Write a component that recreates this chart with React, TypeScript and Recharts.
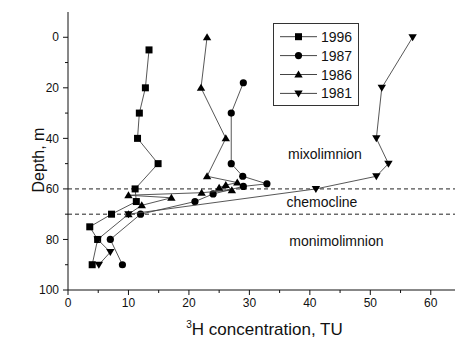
import React from "react";
import {
  ScatterChart,
  Scatter,
  XAxis,
  YAxis,
  ReferenceLine,
  ReferenceDot,
  Legend,
} from "recharts";

// depth (m) and tritium concentration (TU)
const depth1996 = [5, 20, 30, 40, 50, 60, 65, 70, 75, 80, 90];
const conc1996 = [13.4, 12.8, 11.8, 11.5, 14.9, 11.1, 11.3, 7.2, 3.6, 4.9, 4.0];

const depth1987 = [18, 30, 50, 55, 58, 59, 62, 65, 70, 80, 90];
const conc1987 = [29.0, 27.0, 27.0, 28.9, 32.9, 29.0, 24.0, 21.0, 12.0, 7.0, 9.0];

const depth1986 = [0, 20, 40, 55, 57.5, 58.5, 59.5, 60.5, 61.5, 62.5, 63.5, 66.5, 70];
const conc1986 = [23.0, 22.0, 26.1, 23.0, 28.0, 26.1, 25.0, 27.1, 22.1, 10.0, 17.1, 12.2, 10.0];

const depth1981 = [0, 20, 40, 50, 55, 60, 70, 80, 85, 90];
const conc1981 = [57.0, 51.9, 51.0, 53.0, 51.0, 41.0, 10.0, 4.9, 7.0, 5.1];

const xTicks = [0, 5, 10, 15, 20, 25, 30, 35, 40, 45, 50, 55, 60, 65];
const yTicks = [0, 10, 20, 30, 40, 50, 60, 70, 80, 90, 100];
const layerBounds = [60, 70];
const layerNames = ["mixolimnion", "chemocline", "monimolimnion"];
const layerLabelX = [42.5, 42, 44.4];
const layerLabelY = [46.2, 65.3, 80.8];

type Marker = "square" | "circle" | "up" | "down";

const toPoints = (xs: number[], ys: number[]) => xs.map((x, i) => ({ x, y: ys[i] }));

const series: { name: string; marker: Marker; data: { x: number; y: number }[] }[] = [
  { name: "1996", marker: "square", data: toPoints(conc1996, depth1996) },
  { name: "1987", marker: "circle", data: toPoints(conc1987, depth1987) },
  { name: "1986", marker: "up", data: toPoints(conc1986, depth1986) },
  { name: "1981", marker: "down", data: toPoints(conc1981, depth1981) },
];

const FONT = '"Liberation Sans", Arial, sans-serif';
const INK = "#111";
const LINE = "#444";

const drawMarker = (m: Marker, cx: number, cy: number) => {
  if (m === "square") return <rect x={cx - 3.5} y={cy - 3.5} width={7} height={7} fill="#000" />;
  if (m === "circle") return <circle cx={cx} cy={cy} r={3.6} fill="#000" />;
  if (m === "up")
    return <polygon points={`${cx},${cy - 4} ${cx - 4.2},${cy + 3} ${cx + 4.2},${cy + 3}`} fill="#000" />;
  return <polygon points={`${cx},${cy + 4} ${cx - 4.2},${cy - 3} ${cx + 4.2},${cy - 3}`} fill="#000" />;
};

const makeShape = (m: Marker) => (props: any) => {
  const { cx, cy } = props;
  if (cx == null || cy == null) return <g />;
  return drawMarker(m, cx, cy);
};

// tick renderers: tickSize/tickMargin are 0 so x,y sit on the axis line
const BottomTick = ({ x, y, payload }: any) => {
  const v = payload.value;
  const major = v % 10 === 0;
  return (
    <g>
      <line x1={x} x2={x} y1={y} y2={y + (major ? 5 : 3)} stroke={INK} />
      {major && v <= 60 && (
        <text x={x} y={y + 17} textAnchor="middle" fontSize={12} fill={INK} fontFamily={FONT}>
          {v}
        </text>
      )}
    </g>
  );
};

const TopTick = ({ x, y, payload }: any) => {
  const major = payload.value % 10 === 0;
  return <line x1={x} x2={x} y1={y} y2={y + (major ? 5 : 3)} stroke={INK} />;
};

const LeftTick = ({ x, y, payload }: any) => {
  const v = payload.value;
  const major = v % 20 === 0;
  return (
    <g>
      <line x1={x - (major ? 5 : 3)} x2={x} y1={y} y2={y} stroke={INK} />
      {major && (
        <text x={x - 9} y={y} dy="0.35em" textAnchor="end" fontSize={12} fill={INK} fontFamily={FONT}>
          {v}
        </text>
      )}
    </g>
  );
};

const RightTick = ({ x, y, payload }: any) => {
  const major = payload.value % 20 === 0;
  return <line x1={x - (major ? 7 : 4)} x2={x} y1={y} y2={y} stroke={INK} />;
};

const XTitle = (props: any) => {
  const vb = props.viewBox;
  const cx = 264.5;
  return (
    <text x={cx} y={vb.y + 45} textAnchor="middle" fill={INK} fontFamily={FONT} fontSize={17}>
      <tspan fontSize={10} dy={-7}>3</tspan>
      <tspan dy={7}>H concentration, TU</tspan>
    </text>
  );
};

const YTitle = (props: any) => {
  const vb = props.viewBox;
  const cx = vb.x + 30;
  const cy = 160;
  return (
    <text
      x={cx}
      y={cy}
      dy="0.35em"
      textAnchor="middle"
      fill={INK}
      fontFamily={FONT}
      fontSize={16}
      transform={`rotate(-90, ${cx}, ${cy})`}
    >
      Depth, m
    </text>
  );
};

const LegendBox = () => (
  <svg width={86} height={83} style={{ display: "block" }}>
    <rect x={0.5} y={0.5} width={85} height={82} fill="#fff" stroke="#333" />
    {series.map((s, i) => {
      const cy = 13.7 + i * 18.9;
      return (
        <g key={s.name}>
          <line x1={7} x2={44} y1={cy} y2={cy} stroke={LINE} />
          {drawMarker(s.marker, 25.5, cy)}
          <text x={48} y={cy} dy="0.36em" fontSize={14} fill={INK} fontFamily={FONT}>
            {s.name}
          </text>
        </g>
      );
    })}
  </svg>
);

export default function App() {
  return (
    <div
      style={{
        position: "absolute",
        left: 0,
        top: 0,
        width: 455,
        height: 339,
        overflow: "hidden",
        background: "#fff",
        fontFamily: FONT,
      }}
    >
      <ScatterChart width={461} height={339} margin={{ top: 12, right: 0, bottom: 0, left: 8 }}>
        <XAxis
          xAxisId={0}
          type="number"
          dataKey="x"
          domain={[0, 65]}
          ticks={xTicks}
          interval={0}
          allowDataOverflow
          height={49}
          tickSize={0}
          tickMargin={0}
          tickLine={false}
          tick={<BottomTick />}
          axisLine={{ stroke: INK }}
          label={<XTitle />}
        />
        <XAxis
          xAxisId="top"
          orientation="top"
          type="number"
          dataKey="x"
          domain={[0, 65]}
          ticks={xTicks}
          interval={0}
          allowDataOverflow
          height={0}
          tickSize={0}
          tickMargin={0}
          tickLine={false}
          tick={<TopTick />}
          axisLine={{ stroke: INK }}
        />
        <YAxis
          yAxisId={0}
          type="number"
          dataKey="y"
          domain={[-10, 100]}
          reversed
          ticks={yTicks}
          interval={0}
          allowDataOverflow
          width={60}
          tickSize={0}
          tickMargin={0}
          tickLine={false}
          tick={<LeftTick />}
          axisLine={{ stroke: INK }}
          label={<YTitle />}
        />
        <YAxis
          yAxisId="right"
          orientation="right"
          type="number"
          dataKey="y"
          domain={[-10, 100]}
          reversed
          ticks={yTicks}
          interval={0}
          allowDataOverflow
          width={0}
          tickSize={0}
          tickMargin={0}
          tickLine={false}
          tick={<RightTick />}
          axisLine={{ stroke: INK }}
        />
        {layerBounds.map((d) => (
          <ReferenceLine key={d} y={d} stroke="#222" strokeDasharray="4 3" />
        ))}
        {layerNames.map((name, i) => (
          <ReferenceDot
            key={name}
            x={layerLabelX[i]}
            y={layerLabelY[i]}
            r={0}
            fill="none"
            stroke="none"
            label={{ value: name, position: "center", fontSize: 14, fill: INK, fontFamily: FONT }}
          />
        ))}
        {series.map((s) => (
          <Scatter
            key={s.name}
            name={s.name}
            data={s.data}
            line={{ stroke: LINE, strokeWidth: 0.9 }}
            shape={makeShape(s.marker)}
            isAnimationActive={false}
          />
        ))}
        <Legend
          layout="vertical"
          align="center"
          verticalAlign="middle"
          content={<LegendBox />}
          wrapperStyle={{ left: 273, top: 23, width: 86, height: 83 }}
        />
      </ScatterChart>
    </div>
  );
}
